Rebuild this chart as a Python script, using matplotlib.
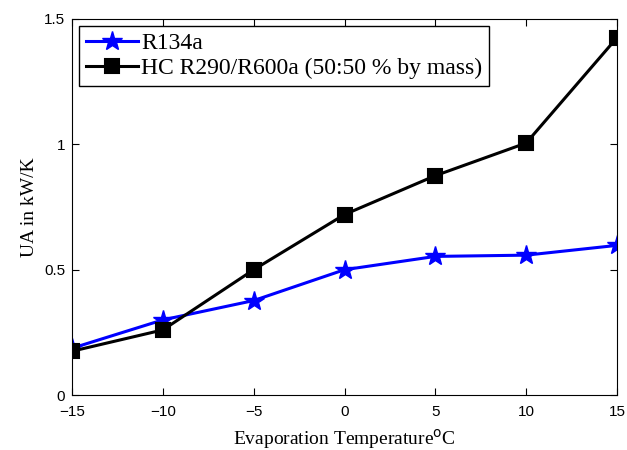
import numpy as np
import matplotlib
matplotlib.use("Agg")
from matplotlib import pyplot as plt

# data
temps = [-15, -10, -5, 0, 5, 10, 15]
ua_r134a = [0.187, 0.30, 0.377, 0.50, 0.553, 0.558, 0.597]
ua_hc = [0.175, 0.26, 0.50, 0.72, 0.875, 1.005, 1.425]
xticks = [-15, -10, -5, 0, 5, 10, 15]
yticks = [0, 0.5, 1, 1.5]

fig = plt.figure(figsize=(6.27, 4.5), dpi=100)
ax = fig.add_axes([0.115, 0.122, 0.869, 0.836])

ax.plot(temps, ua_r134a, color='#0000ff', lw=2.2, marker='*', ms=15,
        mfc='#0000ff', mec='#0000ff', label='R134a')
ax.plot(temps, ua_hc, color='black', lw=2.2, marker='s', ms=10,
        mfc='black', mec='black', mew=1.5, label='HC R290/R600a (50:50 % by mass)')

ax.set_xlim(-15, 15)
ax.set_ylim(0, 1.5)
ax.set_xticks(xticks)
ax.set_yticks(yticks)
ax.set_xticklabels(['\u221215', '\u221210', '\u22125', '0', '5', '10', '15'])
ax.set_yticklabels(['0', '0.5', '1', '1.5'])
ax.tick_params(direction='in', top=True, right=True, length=5,
               labelsize=11)
ax.tick_params(axis='x', pad=7)
ax.tick_params(axis='y', pad=5)
for lab in ax.get_xticklabels() + ax.get_yticklabels():
    lab.set_fontfamily('Liberation Sans')

ax.set_xlabel('Evaporation Temperature$^{\\rm o}$C', fontsize=14,
              family='Liberation Serif', labelpad=6)
ax.set_ylabel('UA in kW/K', fontsize=14, family='Liberation Serif')

leg = ax.legend(loc='upper left', prop={'family': 'Liberation Serif', 'size': 17},
                fancybox=False, framealpha=1, edgecolor='black',
                borderaxespad=0.3, handlelength=2.2, handletextpad=0.15,
                labelspacing=0.15, borderpad=0.28)
leg.get_frame().set_linewidth(1.0)

fig.savefig('out.png', dpi=100)
